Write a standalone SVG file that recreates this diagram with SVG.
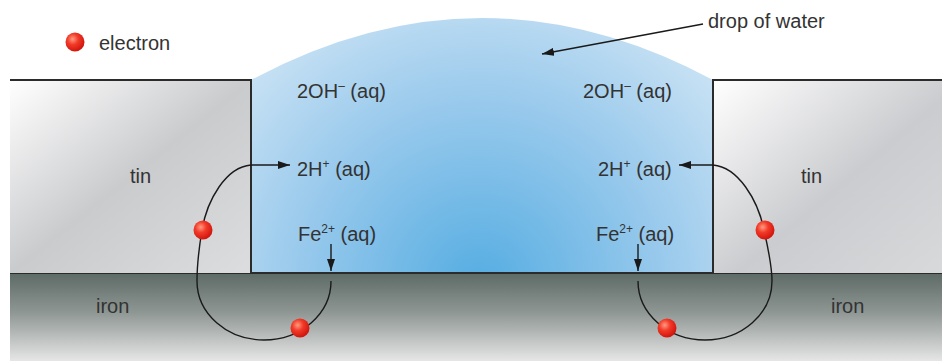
<svg xmlns="http://www.w3.org/2000/svg" width="942" height="361" viewBox="0 0 942 361">
  <defs>
    <linearGradient id="tinL" x1="0" y1="0" x2="1" y2="1">
      <stop offset="0" stop-color="#ffffff"/>
      <stop offset="0.5" stop-color="#cacbcd"/>
      <stop offset="1" stop-color="#dcdddf"/>
    </linearGradient>
    <linearGradient id="tinR" x1="0" y1="0" x2="1" y2="1">
      <stop offset="0" stop-color="#ffffff"/>
      <stop offset="0.55" stop-color="#cbcccf"/>
      <stop offset="1" stop-color="#d8d9db"/>
    </linearGradient>
    <linearGradient id="iron" x1="0" y1="0" x2="0" y2="1">
      <stop offset="0" stop-color="#5d6a65"/>
      <stop offset="0.45" stop-color="#8f9794"/>
      <stop offset="1" stop-color="#e6e6e6"/>
    </linearGradient>
    <radialGradient id="water" cx="480" cy="285" r="330" gradientUnits="userSpaceOnUse">
      <stop offset="0" stop-color="#55ade2"/>
      <stop offset="0.55" stop-color="#98c9ec"/>
      <stop offset="1" stop-color="#cfe5f5"/>
    </radialGradient>
    <radialGradient id="ball" cx="0.38" cy="0.35" r="0.65">
      <stop offset="0" stop-color="#ff9a80"/>
      <stop offset="0.45" stop-color="#f23a28"/>
      <stop offset="1" stop-color="#d0160e"/>
    </radialGradient>
    <marker id="arrow" viewBox="0 0 12 8" refX="12" refY="4" markerWidth="12" markerHeight="8" markerUnits="userSpaceOnUse" orient="auto">
      <path d="M0,0 L12,4 L0,8 Z" fill="#1a1a1a"/>
    </marker>
    <style>
      .label { font-family: "Liberation Sans", Arial, sans-serif; font-size: 20px; fill: #333; }
      .sup { font-size: 12px; }
      .edge { fill: none; stroke: #2b2b2b; stroke-width: 2; }
      .wire { fill: none; stroke: #1a1a1a; stroke-width: 1.4; }
      .arr { fill: none; stroke: #1a1a1a; stroke-width: 1.4; marker-end: url(#arrow); }
    </style>
  </defs>

  <!-- drop of water -->
  <g id="water">
    <path d="M251,80 Q482,-44 713,80 L713,273 L251,273 Z" fill="url(#water)"/>
  </g>

  <!-- iron base -->
  <g id="iron-base">
    <rect x="10" y="273" width="932" height="88" fill="url(#iron)"/>
    <line x1="10" y1="273" x2="942" y2="273" class="edge"/>
    <text class="label" x="96" y="313">iron</text>
    <text class="label" x="831" y="313">iron</text>
  </g>

  <!-- tin layers -->
  <g id="tin-left">
    <rect x="10" y="80" width="241" height="193" fill="url(#tinL)"/>
    <path d="M10,80 H251 V273" class="edge"/>
    <text class="label" x="130" y="183">tin</text>
  </g>
  <g id="tin-right">
    <rect x="713" y="80" width="229" height="193" fill="url(#tinR)"/>
    <path d="M942,80 H713 V273" class="edge"/>
    <text class="label" x="801" y="183">tin</text>
  </g>

  <!-- ion labels -->
  <g id="ions-left">
    <text class="label" x="297" y="98">2OH<tspan class="sup" dy="-8">–</tspan><tspan dy="8"> (aq)</tspan></text>
    <text class="label" x="297" y="176">2H<tspan class="sup" dy="-8">+</tspan><tspan dy="8"> (aq)</tspan></text>
    <text class="label" x="298" y="241">Fe<tspan class="sup" dy="-8">2+</tspan><tspan dy="8"> (aq)</tspan></text>
  </g>
  <g id="ions-right">
    <text class="label" x="583" y="98">2OH<tspan class="sup" dy="-8">–</tspan><tspan dy="8"> (aq)</tspan></text>
    <text class="label" x="598" y="176">2H<tspan class="sup" dy="-8">+</tspan><tspan dy="8"> (aq)</tspan></text>
    <text class="label" x="596" y="241">Fe<tspan class="sup" dy="-8">2+</tspan><tspan dy="8"> (aq)</tspan></text>
  </g>

  <!-- connectors -->
  <g id="connectors">
    <line x1="703" y1="24" x2="542" y2="54" class="arr"/>
    <path d="M251,165 C226,167 207,200 202,230 C199,248 197,265 197,281 A67,59 0 0 0 331,281" class="wire"/>
    <line x1="251" y1="165" x2="290" y2="165" class="arr"/>
    <line x1="331" y1="244" x2="331" y2="271" class="arr"/>
    <path d="M713,165 C738,167 758,200 764,230 C768,248 772,265 772,281 A67,59 0 0 1 638,281" class="wire"/>
    <line x1="713" y1="165" x2="679" y2="165" class="arr"/>
    <line x1="638" y1="244" x2="638" y2="271" class="arr"/>
  </g>

  <!-- electrons -->
  <g id="electrons">
    <circle cx="203" cy="230" r="9.5" fill="url(#ball)"/>
    <circle cx="300" cy="328" r="9.5" fill="url(#ball)"/>
    <circle cx="765" cy="230" r="9.5" fill="url(#ball)"/>
    <circle cx="667" cy="328" r="9.5" fill="url(#ball)"/>
  </g>

  <!-- key -->
  <g id="legend">
    <circle cx="75" cy="42" r="9.5" fill="url(#ball)"/>
    <text class="label" x="99" y="50">electron</text>
  </g>
  <g id="drop-label">
    <text class="label" x="708" y="28">drop of water</text>
  </g>
</svg>
